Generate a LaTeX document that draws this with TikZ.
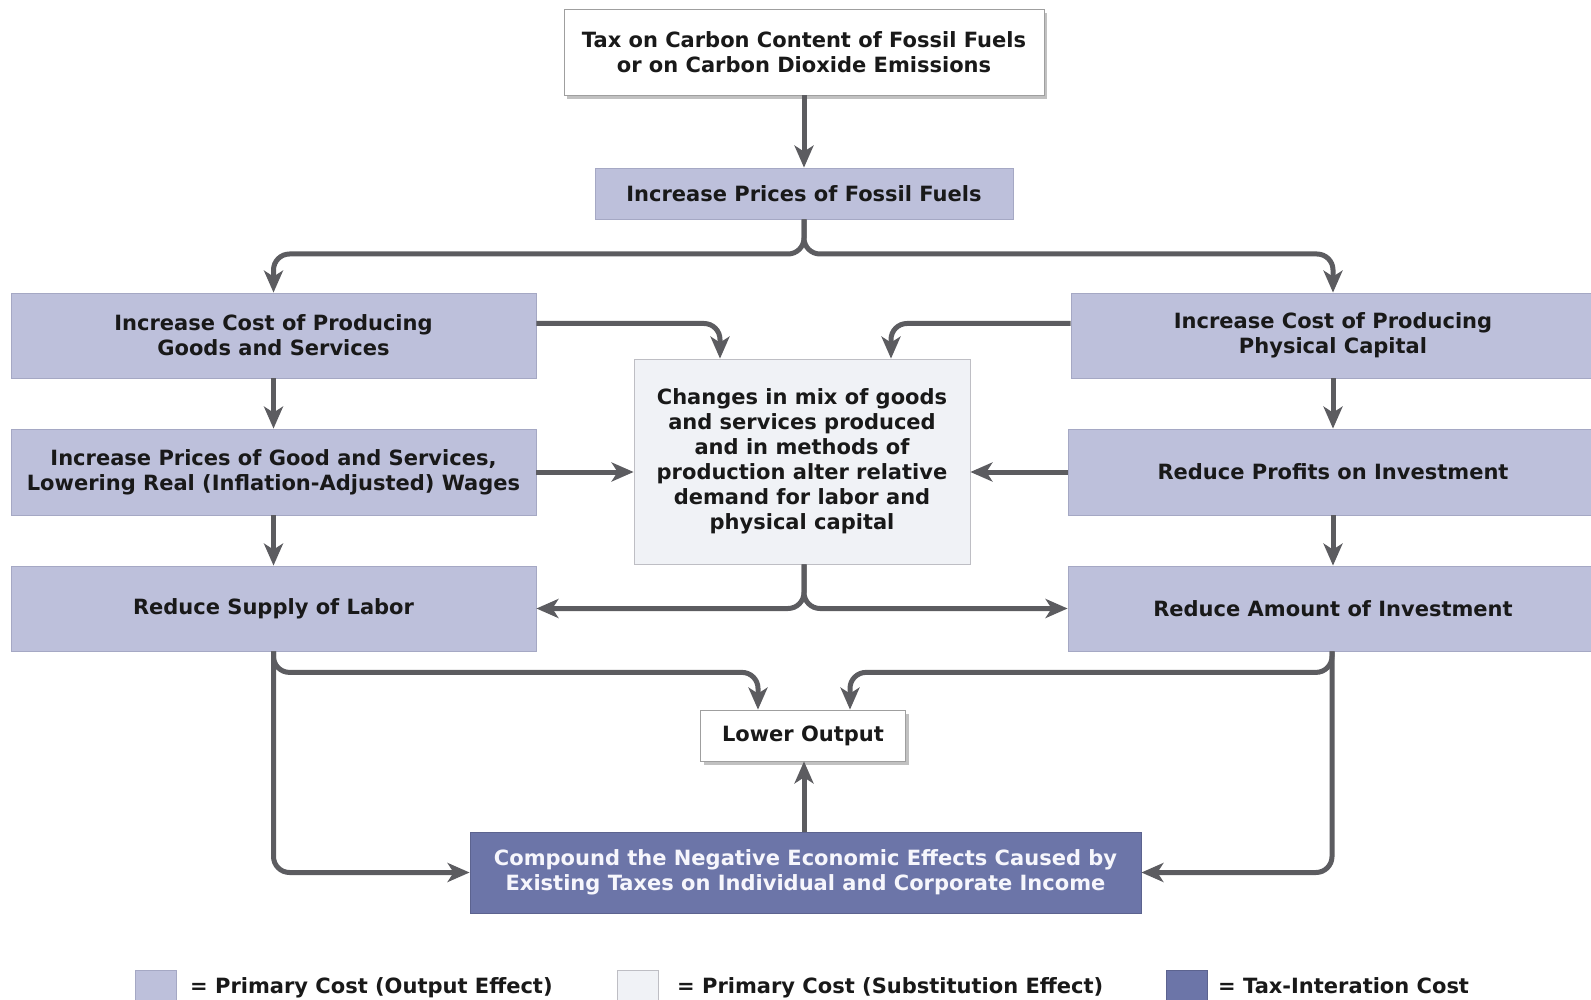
\documentclass[tikz,border=0pt]{standalone}
\usepackage{fontspec}
\setmainfont{DejaVu Sans}
\usetikzlibrary{arrows.meta,shadows}
\definecolor{lav}{RGB}{189,192,219}
\definecolor{lavline}{RGB}{165,168,196}
\definecolor{pale}{RGB}{240,242,246}
\definecolor{paleline}{RGB}{190,190,196}
\definecolor{dark}{RGB}{108,117,168}
\definecolor{arr}{RGB}{92,92,96}
\definecolor{ctext}{RGB}{246,246,252}
\begin{document}
\begin{tikzpicture}[x=1pt,y=-1pt,
  base/.style={rectangle, inner sep=0pt, align=center,
    font=\bfseries\fontsize{21}{25}\selectfont, text=black!90},
  lavbox/.style={base, fill=lav, draw=lavline, line width=0.8pt},
  palebox/.style={base, fill=pale, draw=paleline, line width=0.8pt},
  darkbox/.style={base, fill=dark, draw=dark!85!black, line width=0.8pt, text=ctext},
  whitebox/.style={base, fill=white, draw=gray!75, line width=0.8pt,
    drop shadow={shadow xshift=3pt, shadow yshift=-4pt, opacity=0.35, fill=black!70}},
  conn/.style={draw=arr, line width=5pt, rounded corners=16pt,
    -{Stealth[length=22pt,width=19pt,inset=6pt]}},
  legtext/.style={anchor=base west, inner sep=0pt, font=\bfseries\fontsize{21}{25}\selectfont, text=black!90},
  legbox/.style={rectangle, inner sep=0pt, minimum width=41pt, minimum height=38pt, line width=0.8pt}
]
\useasboundingbox (0,0) rectangle (1591,1000);

% nodes
\node[whitebox, minimum width=480pt, minimum height=86pt] (tax) at (804,52)
  {Tax on Carbon Content of Fossil Fuels\\or on Carbon Dioxide Emissions};
\node[lavbox, minimum width=418pt, minimum height=51pt] (ip) at (804,193.5)
  {Increase Prices of Fossil Fuels};

\node[lavbox, minimum width=525pt, minimum height=85pt] (lb1) at (273.5,335.5)
  {Increase Cost of Producing\\Goods and Services};
\node[lavbox, minimum width=525pt, minimum height=86pt] (lb2) at (273.5,472)
  {Increase Prices of Good and Services,\\Lowering Real (Inflation-Adjusted) Wages};
\node[lavbox, minimum width=525pt, minimum height=85pt] (lb3) at (273.5,608.5)
  {Reduce Supply of Labor};

\node[lavbox, minimum width=524pt, minimum height=85pt] (rb1) at (1333,335.5)
  {Increase Cost of Producing\\Physical Capital};
\node[lavbox, minimum width=530pt, minimum height=86pt] (rb2) at (1333,472)
  {Reduce Profits on Investment};
\node[lavbox, minimum width=530pt, minimum height=85pt] (rb3) at (1333,608.5)
  {Reduce Amount of Investment};

\node[palebox, minimum width=336pt, minimum height=205pt] (cb) at (802,461.5)
  {Changes in mix of goods\\and services produced\\and in methods of\\production alter relative\\demand for labor and\\physical capital};

\node[whitebox, minimum width=205pt, minimum height=51pt] (lo) at (803,735.5)
  {Lower Output};
\node[darkbox, minimum width=671pt, minimum height=81pt] (cp) at (805.5,872.5)
  {Compound the Negative Economic Effects Caused by\\Existing Taxes on Individual and Corporate Income};

% connectors
\draw[conn] (tax.south) -- (ip.north);
\coordinate (s1) at (804,254);
\draw[conn] (ip.south) -- (s1) -| (lb1.north);
\draw[conn] (ip.south) -- (s1) -| (rb1.north);

\draw[conn] ([yshift=12pt]lb1.east) -| ([xshift=-82pt]cb.north);
\draw[conn] ([yshift=12pt]rb1.west) -| ([xshift=89pt]cb.north);

\draw[conn] (lb1.south) -- (lb2.north);
\draw[conn] (lb2.south) -- (lb3.north);
\draw[conn] (rb1.south) -- (rb2.north);
\draw[conn] (rb2.south) -- (rb3.north);

\draw[conn] (lb2.east) -- (lb2.east -| cb.west);
\draw[conn] (rb2.west) -- (rb2.west -| cb.east);

\draw[conn] ([xshift=2pt]cb.south) |- (lb3.east);
\draw[conn] ([xshift=2pt]cb.south) |- (rb3.west);

\draw[conn] (lb3.south) -- ++(0,21) -| ([xshift=-45pt]lo.north);
\draw[conn] ([xshift=-1pt]rb3.south) -- ++(0,21) -| ([xshift=47pt]lo.north);
\draw[conn] (lb3.south) |- (cp.west);
\draw[conn] ([xshift=-1pt]rb3.south) |- (cp.east);

\draw[conn] ([xshift=-1.5pt]cp.north) -- ([xshift=1pt]lo.south);

% legend
\node[legbox, fill=lav, draw=lavline] (lg1) at (155.5,989) {};
\node[legtext] (lt1) at (190,993) {= Primary Cost (Output Effect)};
\node[legbox, fill=pale, draw=paleline] (lg2) at (638,989) {};
\node[legtext] (lt2) at (677,993) {= Primary Cost (Substitution Effect)};
\node[legbox, fill=dark, draw=dark!85!black] (lg3) at (1187,989) {};
\node[legtext] (lt3) at (1218,993) {= Tax-Interation Cost};
\end{tikzpicture}
\end{document}
